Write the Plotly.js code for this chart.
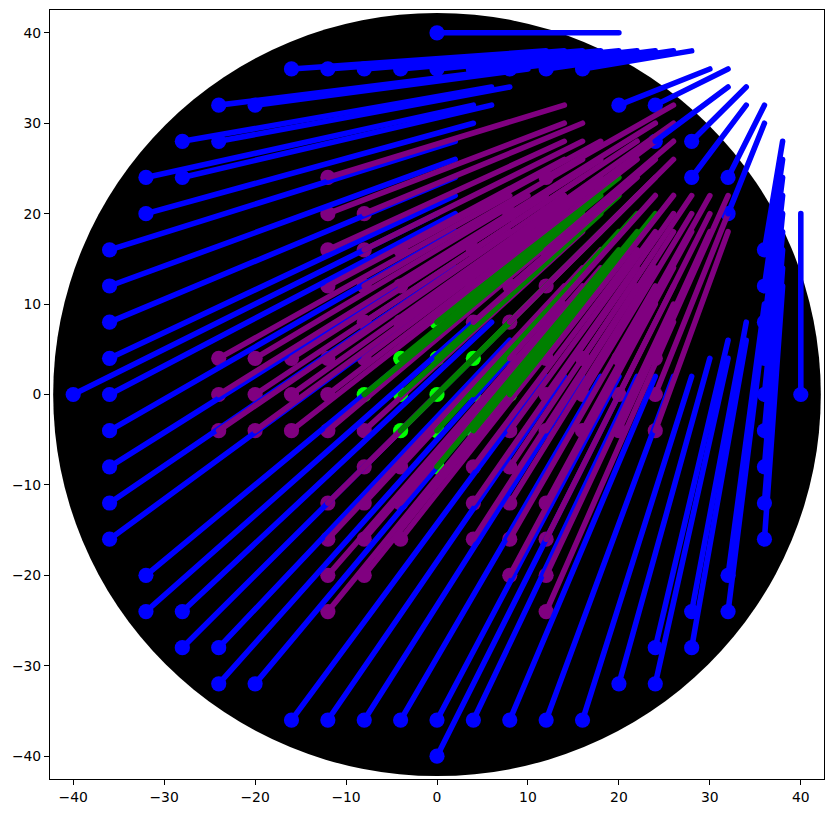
<!DOCTYPE html>
<html><head><meta charset="utf-8">
<script src="https://cdn.plot.ly/plotly-3.0.1.min.js"></script>
<style>html,body{margin:0;padding:0;background:#fff}</style></head>
<body><div id="chart" style="width:833px;height:813px"></div>
<script>
const tickValues = [-40,-30,-20,-10,0,10,20,30,40];
const discRadius = 42.2;

const greenX    = [-8,-4,-4,-4,0,0,0,0,0,4,4,4,8];
const greenY    = [0,-4,0,4,-8,-4,0,4,8,-4,0,4,0];
const greenEndX = [16,18,18,18,20,20,20,20,20,22,22,22,24];
const greenEndY = [20,18,20,22,16,18,20,22,24,18,20,22,20];

const purpleX = [-24,-24,-24,-20,-20,-20,-16,-16,-16,
  -12,-12,-12,-12,-12,-12,-12,-12,-12,-12,-12,
  -8,-8,-8,-8,-8,-8,-8,-8,-8,-8,
  -4,-4,-4,-4,-4,-4,
  4,4,4,4,4,4,
  8,8,8,8,8,8,8,8,8,8,
  12,12,12,12,12,12,12,12,12,12,12,
  16,16,16,20,20,20,24,24,24];
const purpleY = [-4,0,4,-4,0,4,-4,0,4,
  -24,-20,-16,-12,-4,0,4,12,16,20,24,
  -20,-16,-12,-8,-4,4,8,12,16,20,
  -16,-12,-8,8,12,16,
  -16,-12,-8,8,12,16,
  -20,-16,-12,-8,-4,4,8,12,16,20,
  -24,-20,-16,-12,-4,0,4,12,16,20,24,
  -4,0,4,-4,0,4,-4,0,4];
const purpleEndX = [8,8,8,10,10,10,12,12,12,
  14,14,14,14,14,14,14,14,14,14,14,
  16,16,16,16,16,16,16,16,16,16,
  18,18,18,18,18,18,
  22,22,22,22,22,22,
  24,24,24,24,24,24,24,24,24,24,
  26,26,26,26,26,26,26,26,26,26,26,
  28,28,28,30,30,30,32,32,32];
const purpleEndY = [18,20,22,18,20,22,18,20,22,
  8,10,12,14,18,20,22,26,28,30,32,
  10,12,14,16,18,22,24,26,28,30,
  12,14,16,24,26,28,
  12,14,16,24,26,28,
  10,12,14,16,18,22,24,26,28,30,
  8,10,12,14,18,20,22,26,28,30,32,
  18,20,22,18,20,22,18,20,22];

const blueX = [-40,-36,-36,-36,-36,-36,-36,-36,-36,-36,
  -32,-32,-32,-32,-28,-28,-28,-28,-24,-24,-24,-24,
  -20,-20,-16,-16,-12,-12,-8,-8,-4,-4,
  0,0,0,0,4,4,8,8,12,12,16,16,20,20,
  24,24,24,24,28,28,28,28,32,32,32,32,
  36,36,36,36,36,36,36,36,36,40];
const blueY = [0,-16,-12,-8,-4,0,4,8,12,16,
  -24,-20,20,24,-28,-24,24,28,-32,-28,28,32,
  -32,32,-36,36,-36,36,-36,36,-36,36,
  -40,-36,36,40,-36,36,-36,36,-36,36,-36,36,-32,32,
  -32,-28,28,32,-28,-24,24,28,-24,-20,20,24,
  -16,-12,-8,-4,0,4,8,12,16,0];
const blueEndX = [0,2,2,2,2,2,2,2,2,2,
  4,4,4,4,6,6,6,6,8,8,8,8,
  10,10,12,12,14,14,16,16,18,18,
  20,20,20,20,22,22,24,24,26,26,28,28,30,30,
  32,32,32,32,34,34,34,34,36,36,36,36,
  38,38,38,38,38,38,38,38,38,40];
const blueEndY = [20,12,14,16,18,20,22,24,26,28,
  8,10,30,32,6,8,32,34,4,6,34,36,
  4,36,2,38,2,38,2,38,2,38,
  0,2,38,40,2,38,2,38,2,38,2,38,4,36,
  4,6,34,36,6,8,32,34,8,10,30,32,
  12,14,16,18,20,22,24,26,28,20];

const markerTrace = (x,y,color) => ({x,y,type:'scatter',mode:'markers',hoverinfo:'skip',
  marker:{size:15.2,color,line:{width:0}},cliponaxis:true});
const traces = [
  markerTrace(greenX,greenY,'#00ff00'),
  markerTrace(purpleX,purpleY,'#800080'),
  markerTrace(blueX,blueY,'#0000ff')
];

const segs = [];
const addSegs = (x,y,ex,ey,color) => x.forEach((v,i)=>segs.push({x0:v,y0:y[i],x1:ex[i],y1:ey[i],color}));
addSegs(greenX,greenY,greenEndX,greenEndY,'#008000');
addSegs(purpleX,purpleY,purpleEndX,purpleEndY,'#800080');
addSegs(blueX,blueY,blueEndX,blueEndY,'#0000ff');
segs.sort((a,b)=>a.x0-b.x0||a.y0-b.y0);
segs.forEach(s=>traces.push({x:[s.x0,s.x1],y:[s.y0,s.y1],type:'scatter',mode:'lines',hoverinfo:'skip',
  line:{color:s.color,width:5.56}}));

const axis = {ticks:'outside',ticklen:5,tickwidth:1,tickcolor:'#000',tickvals:tickValues,
  showgrid:false,zeroline:false,showline:true,mirror:true,linecolor:'#000',linewidth:1,
  tickfont:{family:'DejaVu Sans',size:13.9,color:'#000'},fixedrange:true};

const layout = {width:833,height:813,showlegend:false,paper_bgcolor:'#fff',plot_bgcolor:'#fff',
  margin:{l:49.5,r:8.5,t:9.5,b:33.5,pad:0},
  xaxis:Object.assign({},axis,{range:[-42.55,42.55]}),
  yaxis:Object.assign({},axis,{range:[-42.52,42.52]}),
  shapes:[{type:'circle',xref:'x',yref:'y',layer:'below',x0:-discRadius,y0:-discRadius,x1:discRadius,y1:discRadius,
    fillcolor:'#000',line:{width:0}}]};

Plotly.newPlot('chart',traces,layout,{displayModeBar:false,staticPlot:true}).then(()=>{
  document.querySelectorAll('.scatterlayer .js-line').forEach(p=>{p.style.strokeLinecap='round';});
});
</script></body></html>
